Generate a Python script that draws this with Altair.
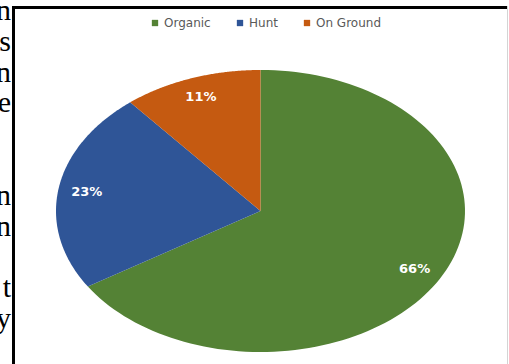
import altair as alt
import pandas as pd

categories = ["Organic", "Hunt", "On Ground"]
shares = [66, 23, 11]
colors = ["#548235", "#2F5597", "#C55A11"]
side_letters = ["n", "s", "n", "e", "n", "n", "t", "y"]
side_lines = [0, 1, 2, 3, 6, 7, 9, 10]

pie_df = pd.DataFrame({"category": categories, "share": shares,
                       "rank": list(range(len(categories)))})
side_df = pd.DataFrame({"letter": side_letters, "line": side_lines})
one_df = pd.DataFrame({"a": [0]})

N = 120
xs = alt.Scale(domain=[-1, 1], range=[56, 465])
ys = alt.Scale(domain=[-1, 1], range=[352, 70])

color = alt.Color(
    "category:N",
    scale=alt.Scale(domain=categories, range=colors),
    legend=alt.Legend(
        title=None, orient="none", legendX=149, legendY=17,
        direction="horizontal", symbolType="square", symbolSize=40,
        symbolStrokeWidth=0, labelFont="DejaVu Sans", labelFontSize=12,
        labelColor="#595959", labelOffset=3, columnPadding=23,
    ),
)

base = alt.Chart(pie_df).transform_window(
    cum="sum(share)", sort=[alt.SortField("rank")], frame=[None, 0]
).transform_joinaggregate(total="sum(share)").transform_calculate(
    a0="2*PI*(datum.cum - datum.share)/datum.total",
    a1="2*PI*datum.cum/datum.total",
)

wedges = base.transform_calculate(
    k=f"sequence(-1, {N + 1})"
).transform_flatten(["k"]).transform_calculate(
    ang=f"datum.a0 + (datum.a1 - datum.a0) * datum.k / {N}",
    px="datum.k < 0 ? 0 : sin(datum.ang)",
    py="datum.k < 0 ? 0 : cos(datum.ang)",
).mark_line(filled=True, interpolate="linear").encode(
    x=alt.X("px:Q", scale=xs, axis=None),
    y=alt.Y("py:Q", scale=ys, axis=None),
    order=alt.Order("k:Q"),
    color=color,
)

labels = base.transform_calculate(
    mid="(datum.a0 + datum.a1) / 2",
    lx="0.86 * sin(datum.mid)",
    ly="0.86 * cos(datum.mid)",
    lab="datum.share + '%'",
).mark_text(font="DejaVu Sans", fontWeight="bold", fontSize=13,
            color="white", baseline="middle").encode(
    x=alt.X("lx:Q", scale=xs, axis=None),
    y=alt.Y("ly:Q", scale=ys, axis=None),
    text="lab:N",
)

side = alt.Chart(side_df).mark_text(
    font="Liberation Serif", fontSize=30, align="right",
    baseline="alphabetic", color="black"
).encode(
    x=alt.value(11),
    y=alt.Y("line:Q", scale=alt.Scale(domain=[0, 10], range=[20, 328]), axis=None),
    text="letter:N",
)

left_rule = alt.Chart(one_df).mark_rule(color="black", strokeWidth=3).encode(
    x=alt.value(13.5), y=alt.value(6), y2=alt.value(364))
top_rule = alt.Chart(one_df).mark_rule(color="black", strokeWidth=3).encode(
    x=alt.value(12), x2=alt.value(508), y=alt.value(7.5))
right_rule = alt.Chart(one_df).mark_rule(color="#d4d4d4", strokeWidth=1).encode(
    x=alt.value(507.5), y=alt.value(6), y2=alt.value(364))

chart = alt.layer(
    wedges, labels, side, left_rule, top_rule, right_rule
).resolve_scale(
    x="independent", y="independent"
).properties(
    width=509, height=364, padding=0, autosize=alt.AutoSizeParams(type="none"),
    background="white",
).configure_view(stroke=None)

chart.save("out.html", embed_options={"renderer": "svg", "actions": False})
